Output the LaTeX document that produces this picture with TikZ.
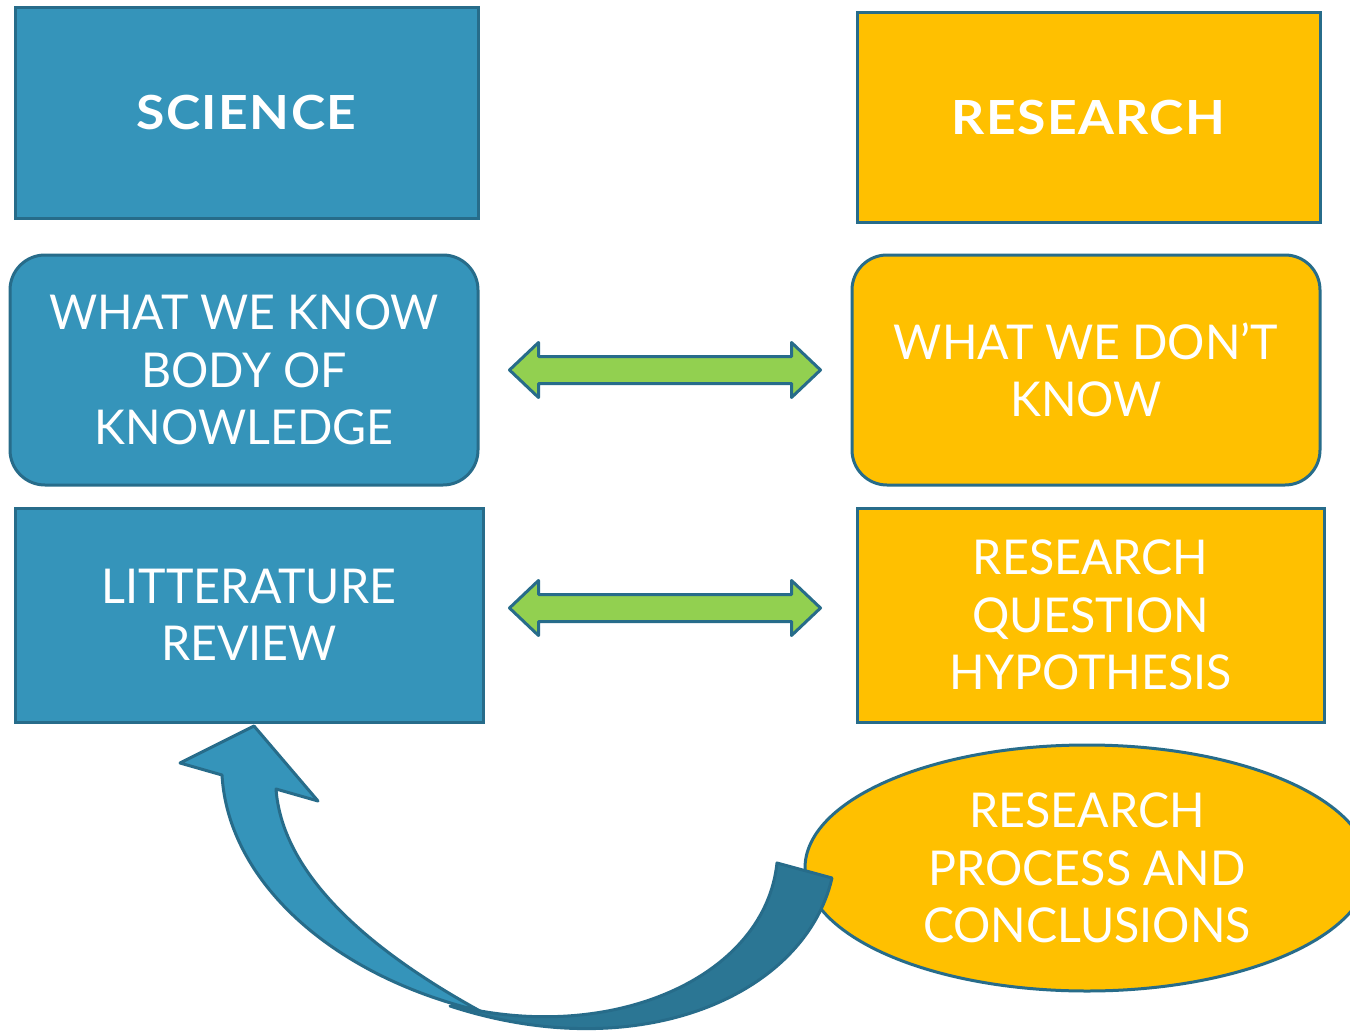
\documentclass[tikz,border=0pt]{standalone}
\usepackage{fontspec}
\setmainfont{Lato}
\usetikzlibrary{calc,shapes.geometric}
\definecolor{sciblue}{HTML}{3594BA}
\definecolor{edgeteal}{HTML}{276C8A}
\definecolor{deepblue}{HTML}{2B7694}
\definecolor{gold}{HTML}{FFC000}
\definecolor{leaf}{HTML}{92D050}
\tikzset{
  box/.style={draw=edgeteal, line width=3pt, text=white, align=center, inner sep=0pt,
    font=\fontsize{48}{57.5}\selectfont\addfontfeature{FakeStretch=0.97}},
  bluebox/.style={box, fill=sciblue},
  goldbox/.style={box, fill=gold},
  headline/.style={font=\fontsize{47}{55}\selectfont\bfseries\addfontfeature{FakeStretch=1.1,LetterSpace=3}},
  dbl/.style={draw=edgeteal, line width=3pt, fill=leaf, line join=round},
  swoop/.style={draw=edgeteal, line width=3pt, line join=round},
}
\begin{document}
\begin{tikzpicture}[x=1pt,y=-1pt]
\useasboundingbox (0,0) rectangle (1350,1033);
\clip (0,0) rectangle (1350,1033);
\fill[white] (0,0) rectangle (1350,1033);

% left column
\node[bluebox, headline, minimum width=463, minimum height=210] (sci) at (246.5,113) {SCIENCE};
\node[bluebox, rounded corners=35, minimum width=468, minimum height=230] (know) at (244,370)
  {WHAT WE KNOW\\BODY OF\\KNOWLEDGE};
\node[bluebox, minimum width=468, minimum height=214] (lit) at (249,615) {LITTERATURE\\REVIEW};

% right column
\node[goldbox, headline, minimum width=463, minimum height=209] (res) at (1088.5,117.5) {RESEARCH};
\node[goldbox, rounded corners=35, minimum width=468, minimum height=230] (dont) at (1086,370)
  {WHAT WE DON’T\\KNOW};
\node[goldbox, minimum width=467, minimum height=214] (rq) at (1090.5,615)
  {RESEARCH\\QUESTION\\HYPOTHESIS};
\node[goldbox, ellipse, minimum width=564, minimum height=246] (proc) at (1087,868)
  {RESEARCH\\PROCESS AND\\CONCLUSIONS};

% double arrows between the columns
\coordinate (g1) at ($(know.east)!0.5!(dont.west)$);
\coordinate (g2) at (g1 |- 0,608);
\foreach \g in {g1,g2}{
  \draw[dbl] ($(\g)+(-155.5,0)$) -- ++(29,-27.5) -- ++(0,14) -- ++(253,0) -- ++(0,-14)
    -- ++(29,27.5) -- ++(-29,27.5) -- ++(0,-14) -- ++(-253,0) -- ++(0,14) -- cycle;
}

% curved return arrow from the conclusions back to the literature review
\draw[swoop, fill=deepblue] (470,1009) .. controls (620,1040) and (765,975) .. (777,863)
  -- (832,878) .. controls (805,995) and (640,1068) .. (450,1006) -- cycle;
\draw[swoop, fill=sciblue] (222,775) -- (180,763) -- (254,726) -- (318,801) -- (276,789)
  .. controls (282,870) and (360,945) .. (480,1011)
  .. controls (330,975) and (228,880) .. (222,775) -- cycle;
\end{tikzpicture}
\end{document}
